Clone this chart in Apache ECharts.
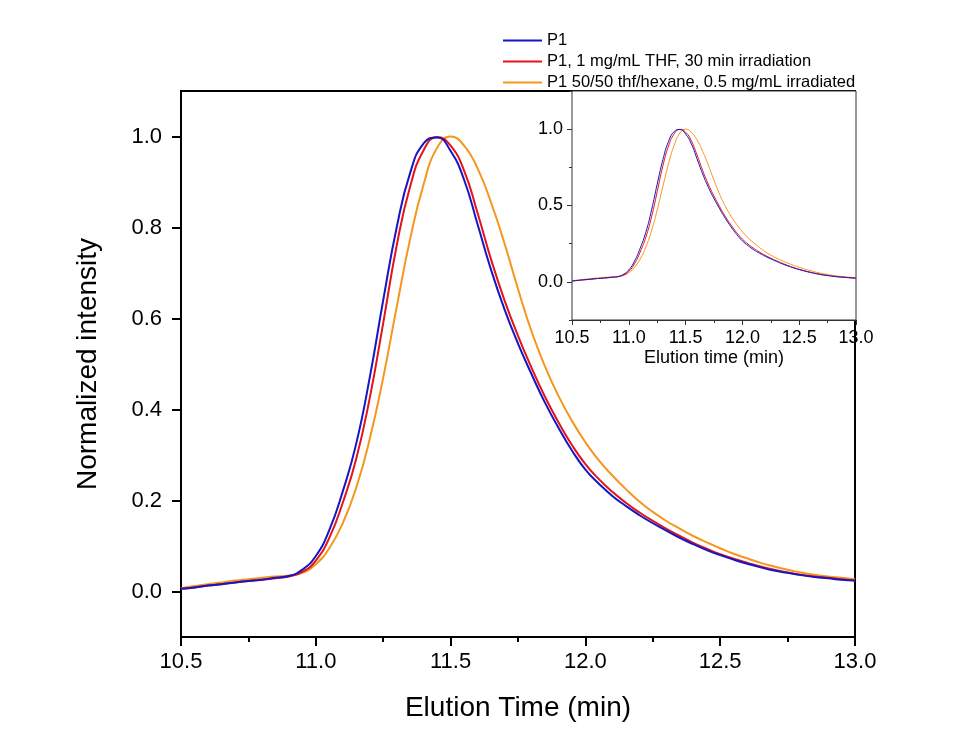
<!DOCTYPE html>
<html>
<head>
<meta charset="utf-8">
<script src="https://cdn.jsdelivr.net/npm/echarts@6/dist/echarts.min.js"></script>
<style>
html,body{margin:0;padding:0;background:#fff;}
#chart{width:979px;height:755px;}
</style>
</head>
<body>
<div id="chart"></div>
<script>
var seriesNames = ['P1', 'P1, 1 mg/mL THF, 30 min irradiation', 'P1 50/50 thf/hexane, 0.5 mg/mL irradiated'];

var elutionTime = [10.50,10.55,10.60,10.65,10.70,10.75,10.80,10.85,10.90,10.95,
                   11.00,11.05,11.10,11.15,11.20,11.25,11.30,11.35,11.40,11.45,
                   11.50,11.55,11.60,11.65,11.70,11.75,11.80,11.85,11.90,11.95,
                   12.00,12.05,12.10,12.15,12.20,12.25,12.30,12.35,12.40,12.45,
                   12.50,12.55,12.60,12.65,12.70,12.75,12.80,12.85,12.90,12.95,13.00];

var p1Vals = [0.006,0.009,0.013,0.016,0.020,0.023,0.026,0.030,0.034,0.048,
              0.078,0.135,0.220,0.325,0.470,0.640,0.800,0.920,0.985,0.998,
              0.968,0.905,0.807,0.707,0.620,0.545,0.478,0.415,0.360,0.310,
              0.268,0.237,0.210,0.188,0.168,0.150,0.134,0.118,0.104,0.091,
              0.080,0.070,0.061,0.053,0.046,0.041,0.036,0.032,0.029,0.026,0.024];

var thfVals = [0.006,0.009,0.013,0.016,0.020,0.023,0.026,0.029,0.033,0.043,
               0.068,0.118,0.195,0.292,0.425,0.590,0.760,0.890,0.970,0.999,
               0.980,0.925,0.832,0.730,0.640,0.562,0.492,0.428,0.372,0.322,
               0.280,0.247,0.219,0.195,0.174,0.155,0.138,0.122,0.107,0.094,
               0.082,0.072,0.063,0.055,0.048,0.042,0.037,0.033,0.030,0.027,0.024];

var hexVals = [0.007,0.012,0.016,0.020,0.024,0.027,0.030,0.033,0.035,0.041,
               0.060,0.095,0.150,0.228,0.335,0.470,0.625,0.775,0.895,0.975,
               1.000,0.980,0.930,0.855,0.765,0.665,0.572,0.495,0.430,0.375,
               0.328,0.288,0.255,0.225,0.198,0.175,0.155,0.138,0.122,0.108,
               0.095,0.083,0.073,0.063,0.055,0.048,0.042,0.037,0.033,0.030,0.027];

var colors = ['#1616c4', '#e3131b', '#f5961e'];

var mainYTicks = [0, 0.2, 0.4, 0.6, 0.8, 1.0];
var insetYTicks = [0, 0.5, 1.0];

function pairs(t, v) { return t.map(function (x, i) { return [x, v[i]]; }); }

var font = 'Liberation Sans, Arial, sans-serif';

var chart = echarts.init(document.getElementById('chart'), null, {renderer: 'canvas'});

var series = [];
var data = [pairs(elutionTime, p1Vals), pairs(elutionTime, thfVals), pairs(elutionTime, hexVals)];
for (var i = 0; i < 3; i++) {
  series.push({
    name: seriesNames[i], type: 'line', xAxisIndex: 0, yAxisIndex: 0,
    data: data[i], smooth: 0.5, showSymbol: false, symbol: 'none',
    lineStyle: {color: colors[i], width: 2}, itemStyle: {color: colors[i]},
    z: 5 - i
  });
}
for (var j = 0; j < 3; j++) {
  series.push({
    name: seriesNames[j], type: 'line', xAxisIndex: 1, yAxisIndex: 1,
    data: data[j], smooth: 0.5, showSymbol: false, symbol: 'none',
    lineStyle: {color: colors[j], width: 1}, itemStyle: {color: colors[j]},
    z: 13 - j
  });
}

chart.setOption({
  backgroundColor: '#ffffff',
  animation: false,
  textStyle: {fontFamily: font, color: '#000'},
  legend: {
    orient: 'vertical', left: 503, top: 32, padding: 0,
    itemWidth: 39, itemHeight: 2, itemGap: 4, icon: 'rect',
    data: seriesNames,
    textStyle: {fontFamily: font, fontSize: 16.5, color: '#000', lineHeight: 16, padding: [0, 0, 0, 0]},
    selectedMode: false
  },
  grid: [
    {left: 181, top: 91, width: 674, height: 546, show: true, borderColor: '#000', borderWidth: 2, backgroundColor: 'transparent'},
    {left: 572, top: 91, width: 284, height: 229, show: true, borderColor: '#333', borderWidth: 1, backgroundColor: '#fff', z: 5}
  ],
  xAxis: [
    {
      type: 'value', gridIndex: 0, min: 10.5, max: 13.0, interval: 0.5,
      name: 'Elution Time (min)', nameLocation: 'middle', nameGap: 57,
      nameTextStyle: {fontSize: 28, fontFamily: font, color: '#000'},
      axisLine: {show: true, onZero: false, lineStyle: {color: '#000', width: 2}},
      axisTick: {show: true, inside: false, length: 9, lineStyle: {color: '#000', width: 2}},
      minorTick: {show: true, splitNumber: 2, length: 5, lineStyle: {color: '#000', width: 2}},
      axisLabel: {fontSize: 22, fontFamily: font, color: '#000', margin: 14, formatter: function (v) { return v.toFixed(1); }},
      splitLine: {show: false}, minorSplitLine: {show: false}
    },
    {
      type: 'value', gridIndex: 1, min: 10.5, max: 13.0, interval: 0.5,
      name: 'Elution time (min)', nameLocation: 'middle', nameGap: 29,
      nameTextStyle: {fontSize: 18, fontFamily: font, color: '#000'},
      axisLine: {show: true, onZero: false, lineStyle: {color: '#333', width: 1}},
      axisTick: {show: true, inside: false, length: 5, lineStyle: {color: '#333', width: 1}},
      minorTick: {show: true, splitNumber: 2, length: 3, lineStyle: {color: '#333', width: 1}},
      axisLabel: {fontSize: 18, fontFamily: font, color: '#000', margin: 9, formatter: function (v) { return v.toFixed(1); }},
      splitLine: {show: false}, minorSplitLine: {show: false}
    }
  ],
  yAxis: [
    {
      type: 'value', gridIndex: 0, min: -0.1, max: 1.1, interval: 0.1,
      name: 'Normalized intensity', nameLocation: 'middle', nameGap: 79, nameRotate: 90,
      nameTextStyle: {fontSize: 28, fontFamily: font, color: '#000'},
      axisLine: {show: true, onZero: false, lineStyle: {color: '#000', width: 2}},
      axisTick: {show: true, inside: false, length: 9, customValues: mainYTicks, lineStyle: {color: '#000', width: 2}},
      axisLabel: {fontSize: 22, fontFamily: font, color: '#000', margin: 19, customValues: mainYTicks, formatter: function (v) { return v.toFixed(1); }},
      splitLine: {show: false}
    },
    {
      type: 'value', gridIndex: 1, min: -0.25, max: 1.25, interval: 0.25,
      axisLine: {show: true, onZero: false, lineStyle: {color: '#333', width: 1}},
      axisTick: {show: true, inside: false, length: 5, customValues: insetYTicks, lineStyle: {color: '#333', width: 1}},
      axisLabel: {fontSize: 18, fontFamily: font, color: '#000', margin: 9, customValues: insetYTicks, formatter: function (v) { return v.toFixed(1); }},
      splitLine: {show: false}
    },
    {
      type: 'value', gridIndex: 1, min: -0.25, max: 1.25, interval: 0.25, position: 'left',
      axisLine: {show: false},
      axisTick: {show: true, inside: false, length: 3, lineStyle: {color: '#333', width: 1}},
      axisLabel: {show: false},
      splitLine: {show: false}
    }
  ],
  series: series
});
</script>
</body>
</html>
